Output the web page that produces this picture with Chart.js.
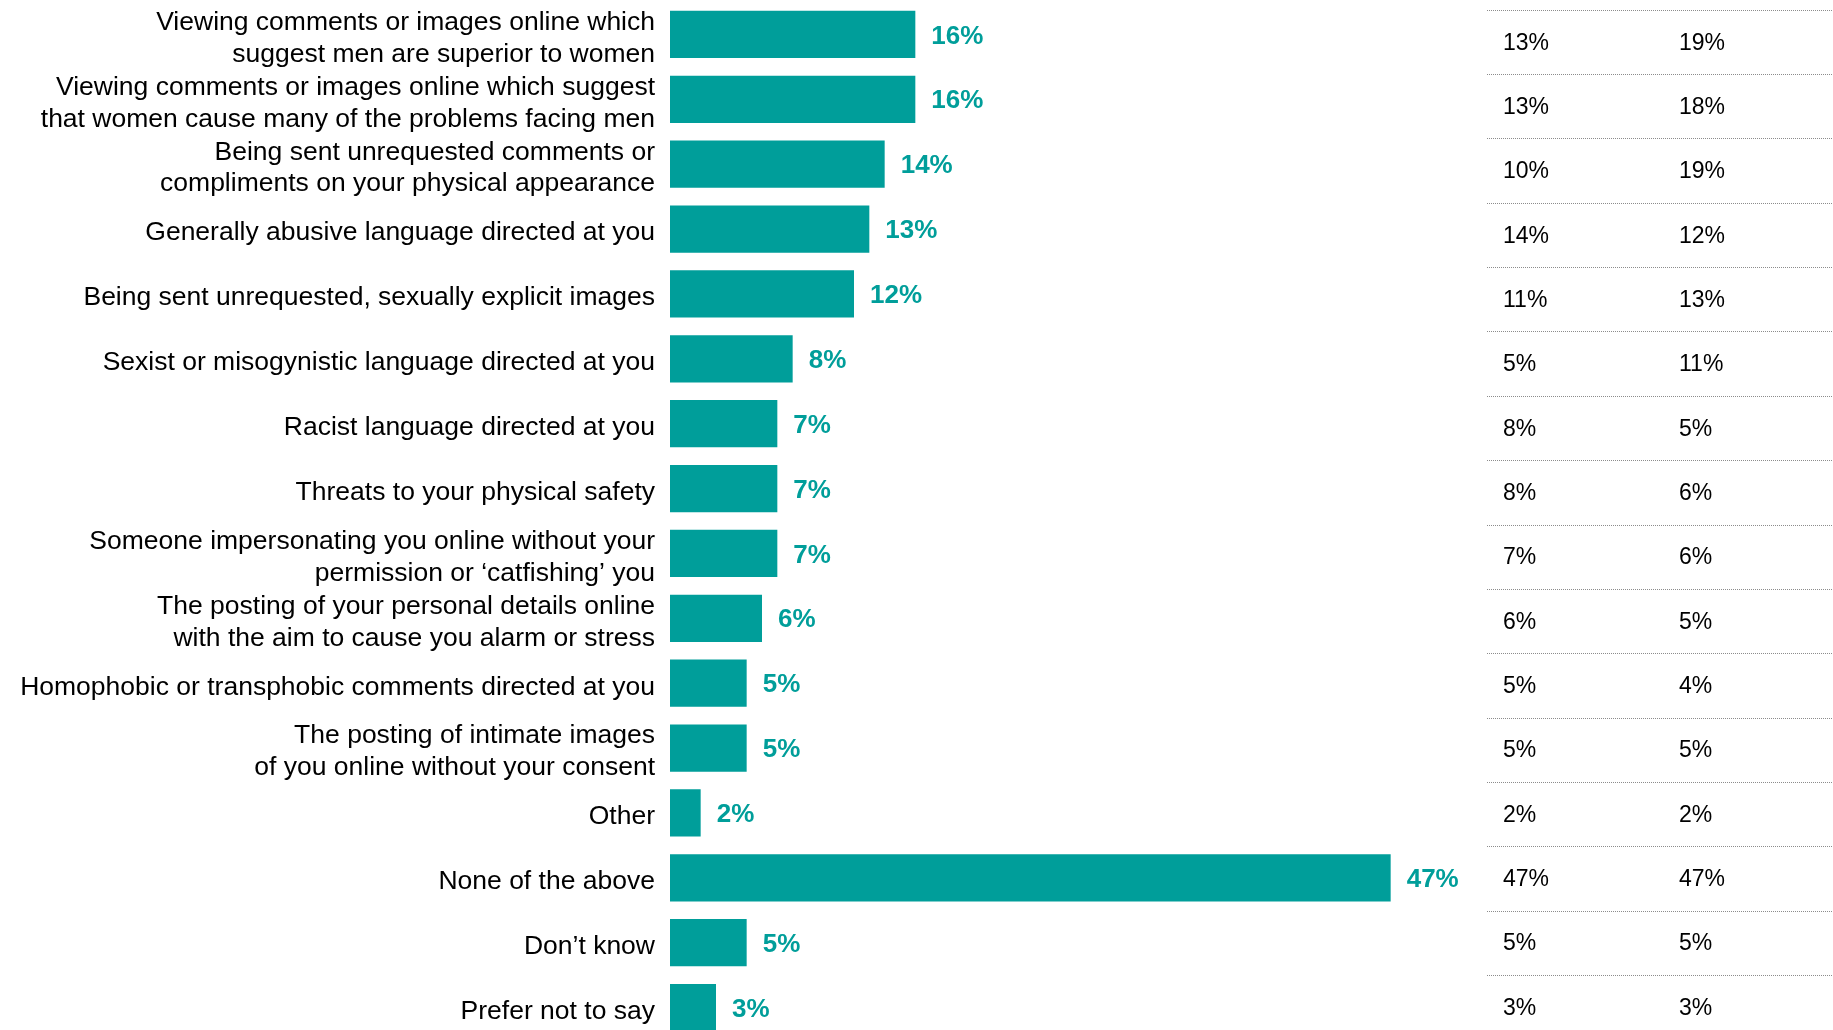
<!DOCTYPE html>
<html>
<head>
<meta charset="utf-8">
<script src="https://cdn.jsdelivr.net/npm/chart.js@4.4.1/dist/chart.umd.min.js"></script>
<style>
    html, body { margin: 0; padding: 0; background: #fff; overflow: hidden; }
    #wrap { width: 1833px; height: 1040px; }
</style>
</head>
<body>
<div id="wrap"><canvas id="harmChart" width="1833" height="1040"></canvas></div>
<script>
const categories = [
    ['Viewing comments or images online which', 'suggest men are superior to women'],
    ['Viewing comments or images online which suggest', 'that women cause many of the problems facing men'],
    ['Being sent unrequested comments or', 'compliments on your physical appearance'],
    'Generally abusive language directed at you',
    'Being sent unrequested, sexually explicit images',
    'Sexist or misogynistic language directed at you',
    'Racist language directed at you',
    'Threats to your physical safety',
    ['Someone impersonating you online without your', 'permission or \u2018catfishing\u2019 you'],
    ['The posting of your personal details online', 'with the aim to cause you alarm or stress'],
    'Homophobic or transphobic comments directed at you',
    ['The posting of intimate images', 'of you online without your consent'],
    'Other',
    'None of the above',
    'Don\u2019t know',
    'Prefer not to say'
];
const totalValues = [16, 16, 14, 13, 12, 8, 7, 7, 7, 6, 5, 5, 2, 47, 5, 3];
const columnOneValues = [13, 13, 10, 14, 11, 5, 8, 8, 7, 6, 5, 5, 2, 47, 5, 3];
const columnTwoValues = [19, 18, 19, 12, 13, 11, 5, 6, 6, 5, 4, 5, 2, 47, 5, 3];

const TEAL = '#009e9a';
const FONT = '"Liberation Sans", Arial, sans-serif';

// bold value label to the right of each bar
const valueLabels = {
    id: 'valueLabels',
    afterDatasetsDraw(chart) {
        const ctx = chart.ctx;
        ctx.save();
        ctx.font = 'bold 26px ' + FONT;
        ctx.fillStyle = TEAL;
        ctx.textAlign = 'left';
        ctx.textBaseline = 'middle';
        chart.getDatasetMeta(0).data.forEach((bar, i) => {
            ctx.fillText(totalValues[i] + '%', bar.x + 16, bar.y + 2);
        });
        ctx.restore();
    }
};

// two columns of figures with dotted rules on the right;
// the table rows are a little tighter than the bar rows
const sideTable = {
    id: 'sideTable',
    afterDraw(chart) {
        const ctx = chart.ctx;
        const area = chart.chartArea;
        const rowH = (area.bottom - area.top) / 16.13;
        const rowY = (i) => area.top + (i + 0.64) * rowH;
        ctx.save();
        ctx.strokeStyle = '#8c8c8c';
        ctx.lineWidth = 1;
        ctx.setLineDash([1, 1]);
        columnOneValues.forEach((v, i) => {
            const lineY = Math.round(rowY(i - 0.52)) + 0.5;
            ctx.beginPath();
            ctx.moveTo(1487, lineY);
            ctx.lineTo(1833, lineY);
            ctx.stroke();
        });
        ctx.setLineDash([]);
        ctx.font = '23px ' + FONT;
        ctx.fillStyle = '#000';
        ctx.textAlign = 'left';
        ctx.textBaseline = 'middle';
        columnOneValues.forEach((v, i) => {
            const y = rowY(i);
            ctx.fillText(v + '%', 1503, y);
            ctx.fillText(columnTwoValues[i] + '%', 1679, y);
        });
        ctx.restore();
    }
};

const harmCtx = document.getElementById('harmChart').getContext('2d');
const harmChart = new Chart(harmCtx, {
    type: 'bar',
    data: {
        labels: categories,
        datasets: [{
            data: totalValues,
            backgroundColor: TEAL,
            borderWidth: 0,
            barPercentage: 0.73,
            categoryPercentage: 1
        }]
    },
    options: {
        indexAxis: 'y',
        responsive: false,
        animation: false,
        layout: {
            padding: { top: 2, bottom: 0, left: 0, right: 243 }
        },
        scales: {
            x: {
                display: false,
                min: 0,
                max: 60
            },
            y: {
                grid: { display: false, drawTicks: false },
                border: { display: false },
                afterFit: (scale) => {
                    scale.width = 670;
                    scale.paddingTop = 0;
                    scale.paddingBottom = 0;
                },
                ticks: {
                    autoSkip: false,
                    color: '#000',
                    padding: 15,
                    labelOffset: 4,
                    font: { family: FONT, size: 26.5, lineHeight: 1.2 }
                }
            }
        },
        plugins: {
            legend: { display: false },
            tooltip: { enabled: false }
        }
    },
    plugins: [valueLabels, sideTable]
});
</script>
</body>
</html>
